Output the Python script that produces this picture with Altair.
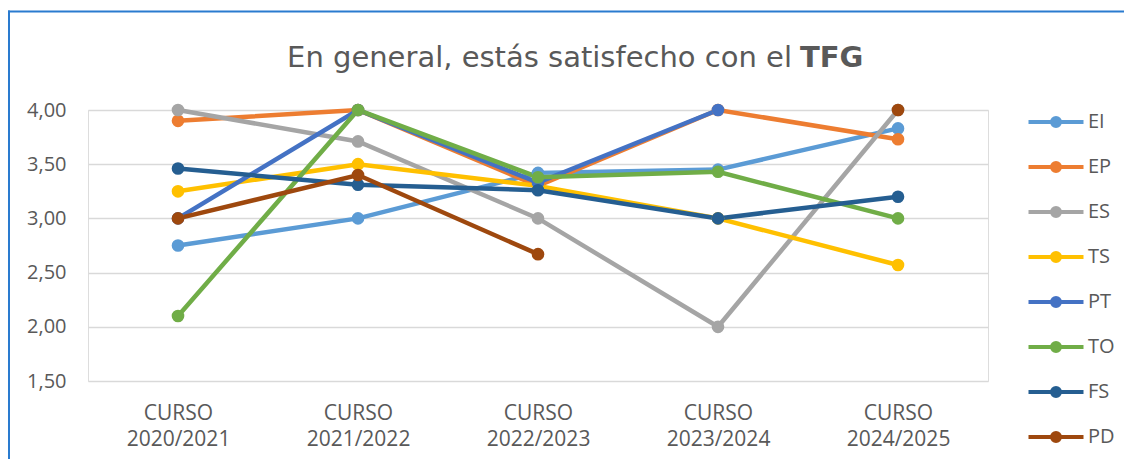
import altair as alt
import pandas as pd

cursos = ["CURSO 2020/2021", "CURSO 2021/2022", "CURSO 2022/2023", "CURSO 2023/2024", "CURSO 2024/2025"]
series = ["EI", "EP", "ES", "TS", "PT", "TO", "FS", "PD"]
colores = ["#5B9BD5", "#ED7D31", "#A5A5A5", "#FFC000", "#4472C4", "#70AD47", "#255E91", "#9E480E"]

EI = [2.75, 3.00, 3.42, 3.45, 3.83]
EP = [3.90, 4.00, 3.30, 4.00, 3.73]
ES = [4.00, 3.71, 3.00, 2.00, 4.00]
TS = [3.25, 3.50, 3.30, 3.00, 2.57]
PT = [3.00, 4.00, 3.33, 4.00, None]
TO = [2.10, 4.00, 3.38, 3.43, 3.00]
FS = [3.46, 3.31, 3.26, 3.00, 3.20]
PD = [3.00, 3.40, 2.67, None, 4.00]

valores = {"EI": EI, "EP": EP, "ES": ES, "TS": TS, "PT": PT, "TO": TO, "FS": FS, "PD": PD}

rows = []
for s in series:
    gaps = 0
    for c, v in zip(cursos, valores[s]):
        if v is None:
            gaps += 1
            continue
        rows.append({"serie": s, "curso": c, "valor": v, "seg": f"{s}-{gaps}"})
df = pd.DataFrame(rows)

grey = "#595959"
font = "Open Sans"
title_font = "DejaVu Sans"

legend_path = ("M-27.5,0H27.5"
               "M-2,0A2,2 0 1,1 2,0A2,2 0 1,1 -2,0"
               "M-4,0A4,4 0 1,1 4,0A4,4 0 1,1 -4,0")

lines = alt.Chart(df).mark_line(
    strokeWidth=4.5,
    point=alt.OverlayMarkDef(filled=True, size=160, opacity=1),
).encode(
    x=alt.X("curso:N", sort=cursos,
            scale=alt.Scale(domain=cursos, padding=0.5),
            axis=alt.Axis(title=None, labelAngle=0, domain=False, ticks=False, grid=False,
                          labelExpr="split(datum.label, ' ')", labelLineHeight=26,
                          labelPadding=21, labelFontSize=21, labelColor=grey,
                          labelFont=font, labelBaseline="top")),
    y=alt.Y("valor:Q",
            scale=alt.Scale(domain=[1.5, 4.0], nice=False, zero=False),
            axis=alt.Axis(title=None, values=[1.5, 2.0, 2.5, 3.0, 3.5, 4.0],
                          labelExpr="replace(format(datum.value, '.2f'), '.', ',')",
                          domain=False, ticks=False, grid=True, gridColor="#D9D9D9",
                          gridWidth=1.3, labelPadding=22, labelFontSize=20,
                          labelColor=grey, labelFont=font)),
    color=alt.Color("serie:N", scale=alt.Scale(domain=series, range=colores),
                    legend=alt.Legend(title=None, orient="none", legendX=958, legendY=2,
                                      symbolType=legend_path, symbolSize=4,
                                      symbolStrokeWidth=4, labelOffset=22,
                                      labelFontSize=20, labelColor=grey, labelFont=font,
                                      rowPadding=21)),
    detail="seg:N",
)

t1 = alt.Chart(pd.DataFrame({"t": ["En general, estás satisfecho con el"]})).mark_text(
    align="right", baseline="alphabetic", fontSize=29, color=grey, font=title_font
).encode(text="t:N", x=alt.value(704), y=alt.value(-43))

t2 = alt.Chart(pd.DataFrame({"t": ["TFG"]})).mark_text(
    align="left", baseline="alphabetic", fontSize=29, color=grey, font=title_font,
    fontWeight="bold"
).encode(text="t:N", x=alt.value(712), y=alt.value(-43))

border = pd.DataFrame({"k": [1]})
top_line = alt.Chart(border).mark_rule(color="#2A7BCF", strokeWidth=2).encode(
    x=alt.value(-80), x2=alt.value(1036), y=alt.value(-98.5))
left_line = alt.Chart(border).mark_rule(color="#2A7BCF", strokeWidth=2).encode(
    x=alt.value(-79), y=alt.value(-99.5), y2=alt.value(349))

chart = alt.layer(top_line, left_line, lines, t1, t2).properties(
    width=900, height=271,
    padding={"left": 80, "top": 102, "right": 136, "bottom": 78},
    autosize=alt.AutoSizeParams(type="none"),
).configure_view(stroke=None).configure(font=font)

chart.save("out.html", embed_options={"renderer": "svg", "actions": False})
